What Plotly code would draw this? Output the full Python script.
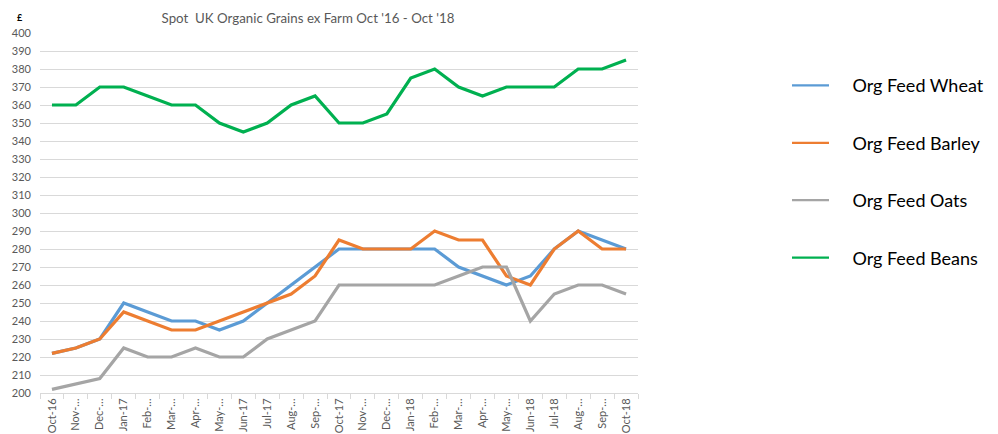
import plotly.graph_objects as go

months = ["Oct-16", "Nov-16", "Dec-16", "Jan-17", "Feb-17", "Mar-17", "Apr-17", "May-17",
          "Jun-17", "Jul-17", "Aug-17", "Sep-17", "Oct-17", "Nov-17", "Dec-17", "Jan-18",
          "Feb-18", "Mar-18", "Apr-18", "May-18", "Jun-18", "Jul-18", "Aug-18", "Sep-18", "Oct-18"]
tick_labels = ["Oct-16", "Nov-…", "Dec-…", "Jan-17", "Feb-…", "Mar-…", "Apr-…", "May-…",
               "Jun-17", "Jul-17", "Aug-…", "Sep-…", "Oct-17", "Nov-…", "Dec-…", "Jan-18",
               "Feb-…", "Mar-…", "Apr-…", "May-…", "Jun-18", "Jul-18", "Aug-…", "Sep-…", "Oct-18"]

wheat = [222, 225, 230, 250, 245, 240, 240, 235, 240, 250, 260, 270, 280, 280, 280, 280,
         280, 270, 265, 260, 265, 280, 290, 285, 280]
barley = [222, 225, 230, 245, 240, 235, 235, 240, 245, 250, 255, 265, 285, 280, 280, 280,
          290, 285, 285, 265, 260, 280, 290, 280, 280]
oats = [202, 205, 208, 225, 220, 220, 225, 220, 220, 230, 235, 240, 260, 260, 260, 260,
        260, 265, 270, 270, 240, 255, 260, 260, 255]
beans = [360, 360, 370, 370, 365, 360, 360, 350, 345, 350, 360, 365, 350, 350, 355, 375,
         380, 370, 365, 370, 370, 370, 380, 380, 385]

series = [("Org Feed Wheat", wheat, "#5B9BD5"),
          ("Org Feed Barley", barley, "#ED7D31"),
          ("Org Feed Oats", oats, "#A5A5A5"),
          ("Org Feed Beans", beans, "#00B050")]

FONT = "Lato"
TXT = "#595959"
NB = "\u00a0"

fig = go.Figure()
for name, vals, col in series:
    fig.add_trace(go.Scatter(x=months, y=vals, mode="lines", name=name,
                             line=dict(color=col, width=3.2), showlegend=False,
                             legendgroup=name))
for name, vals, col in series:
    fig.add_trace(go.Scatter(x=[None], y=[None], mode="lines", name=NB * 4 + name,
                             line=dict(color=col, width=2.2), showlegend=True,
                             legendgroup=name))

fig.update_layout(
    width=990, height=426,
    margin=dict(l=32, r=360, t=25, b=41),
    paper_bgcolor="white", plot_bgcolor="white",
    font=dict(family=FONT, color=TXT, size=11),
    title=dict(text="Spot  UK Organic Grains ex Farm Oct '16 - Oct '18",
               x=300 / 990, xanchor="center", xref="container",
               y=1 - 10 / 426, yanchor="middle", yref="container",
               font=dict(size=13.3, color=TXT, family=FONT)),
    showlegend=True,
    legend=dict(x=779 / 990, xanchor="left", xref="container",
                y=0.905, yanchor="top", yref="paper",
                font=dict(size=18, color="#000000", family=FONT),
                tracegroupgap=31, itemwidth=37, bgcolor="rgba(0,0,0,0)"),
    annotations=[dict(text="<b>£</b>", x=-0.033, y=1.042, xref="paper", yref="paper",
                      showarrow=False, font=dict(size=9, color="#000000", family=FONT),
                      xanchor="center", yanchor="middle")],
)
fig.update_xaxes(type="category", range=[-0.5, 24.5], tickmode="array",
                 tickvals=months, ticktext=tick_labels, tickangle=-90,
                 ticks="outside", tickson="boundaries", ticklen=5, tickcolor="#D9D9D9",
                 showline=True, linecolor="#D9D9D9", linewidth=1, showgrid=False,
                 automargin=False, tickfont=dict(size=11, color=TXT))
fig.update_yaxes(range=[200, 400], dtick=10, tick0=200, showgrid=True,
                 gridcolor="#D9D9D9", gridwidth=1, zeroline=False, showline=False,
                 ticks="", automargin=False, ticklabelstandoff=8,
                 tickfont=dict(size=11, color=TXT))

fig.write_html("out.html")
